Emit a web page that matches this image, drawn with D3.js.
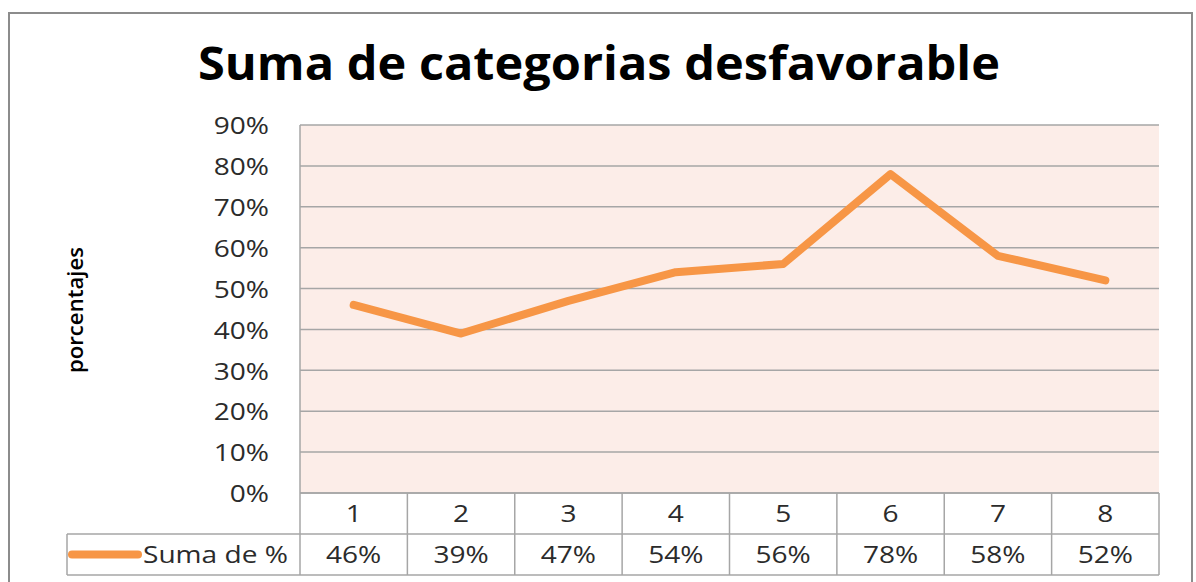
<!DOCTYPE html>
<html>
<head>
<meta charset="utf-8">
<script src="https://cdn.jsdelivr.net/npm/d3@7"></script>
<style>
  body { margin: 0; background: #fff; }
  svg { display: block; }
  text { font-family: "Open Sans", "DejaVu Sans", sans-serif; fill: #2b2b2b; }
</style>
</head>
<body>
<div id="chart"></div>
<script>
// Data
const categories = ['1', '2', '3', '4', '5', '6', '7', '8'];
const values = [0.46, 0.39, 0.47, 0.54, 0.56, 0.78, 0.58, 0.52];
const valueLabels = ['46%', '39%', '47%', '54%', '56%', '78%', '58%', '52%'];
const yTicks = [0, 0.1, 0.2, 0.3, 0.4, 0.5, 0.6, 0.7, 0.8, 0.9];
const seriesName = 'Suma de %';
const title = 'Suma de categorias desfavorable';
const yLabel = 'porcentajes';

const width = 1196, height = 582;
const plot = { left: 300, top: 125, right: 1159, bottom: 493 };
const rowH = 41;
const GRID = '#a6a6a6';
const LINE = '#f79646';
const FONT_SIZE = '23px';
const STRETCH = 1.22;  // the original text is wide, stretch it a bit

// widen text horizontally, keeps anchor
function stretch(sel, k) {
    sel.each(function() {
        const w = this.getComputedTextLength();
        d3.select(this)
            .attr('textLength', w * k)
            .attr('lengthAdjust', 'spacingAndGlyphs');
    });
}

const svg = d3.select('#chart').append('svg')
    .attr('width', width)
    .attr('height', height);

// Outer chart border
svg.append('rect')
    .attr('x', 9).attr('y', 13)
    .attr('width', 1183).attr('height', 600)
    .attr('fill', '#fff')
    .attr('stroke', '#8c8c8c')
    .attr('stroke-width', 2);

// Title
svg.append('text')
    .attr('x', 599).attr('y', 80)
    .attr('text-anchor', 'middle')
    .attr('textLength', 802)
    .attr('lengthAdjust', 'spacingAndGlyphs')
    .style('font-size', '46px')
    .style('font-weight', '700')
    .style('fill', '#000')
    .text(title);

// Scales
const x = d3.scaleBand()
    .domain(categories)
    .range([plot.left, plot.right]);

const y = d3.scaleLinear()
    .domain([0, 0.9])
    .range([plot.bottom, plot.top]);

// Plot area background
svg.append('rect')
    .attr('x', plot.left).attr('y', plot.top)
    .attr('width', plot.right - plot.left)
    .attr('height', plot.bottom - plot.top)
    .attr('fill', '#fcede8');

// Gridlines
svg.append('g')
    .selectAll('line')
    .data(yTicks)
    .join('line')
    .attr('x1', plot.left).attr('x2', plot.right)
    .attr('y1', d => y(d)).attr('y2', d => y(d))
    .attr('stroke', GRID)
    .attr('stroke-width', 1.5);

// Left plot edge
svg.append('line')
    .attr('x1', plot.left).attr('x2', plot.left)
    .attr('y1', plot.top).attr('y2', plot.bottom)
    .attr('stroke', GRID)
    .attr('stroke-width', 1.5);

// Y axis (labels only)
const yAxis = svg.append('g')
    .attr('transform', `translate(${plot.left},0)`)
    .call(d3.axisLeft(y)
        .tickValues(yTicks)
        .tickFormat(d3.format('.0%'))
        .tickSize(0)
        .tickPadding(31));
yAxis.select('.domain').remove();
yAxis.selectAll('text')
    .attr('dy', '0.38em')
    .style('font-size', FONT_SIZE)
    .style('font-family', '"Open Sans", sans-serif')
    .style('fill', '#2b2b2b')
    .call(stretch, STRETCH);

// Y label
svg.append('text')
    .attr('transform', 'translate(83,310) rotate(-90)')
    .attr('text-anchor', 'middle')
    .attr('textLength', 126)
    .attr('lengthAdjust', 'spacingAndGlyphs')
    .style('font-size', '22px')
    .style('font-weight', '600')
    .style('fill', '#000')
    .text(yLabel);

// Series line
const line = d3.line()
    .x((d, i) => x(categories[i]) + x.bandwidth() / 2)
    .y(d => y(d));

svg.append('path')
    .datum(values)
    .attr('fill', 'none')
    .attr('stroke', LINE)
    .attr('stroke-width', 8)
    .attr('stroke-linejoin', 'round')
    .attr('stroke-linecap', 'round')
    .attr('d', line);

// Data table below the plot
const table = svg.append('g');
const tableLeft = 67;
const row1 = plot.bottom, row2 = plot.bottom + rowH, row3 = plot.bottom + 2 * rowH;

// horizontal lines
table.append('line')
    .attr('x1', plot.left).attr('x2', plot.right)
    .attr('y1', row1).attr('y2', row1);
table.append('line')
    .attr('x1', tableLeft).attr('x2', plot.right)
    .attr('y1', row2).attr('y2', row2);
table.append('line')
    .attr('x1', tableLeft).attr('x2', plot.right)
    .attr('y1', row3).attr('y2', row3);
// vertical lines
table.append('line')
    .attr('x1', tableLeft).attr('x2', tableLeft)
    .attr('y1', row2).attr('y2', row3);
table.selectAll('line.col')
    .data(categories.concat(['end']))
    .join('line')
    .attr('class', 'col')
    .attr('x1', (d, i) => i < categories.length ? x(d) : plot.right)
    .attr('x2', (d, i) => i < categories.length ? x(d) : plot.right)
    .attr('y1', row1).attr('y2', row3);
table.selectAll('line')
    .attr('stroke', GRID)
    .attr('stroke-width', 1.5);

// category labels
table.selectAll('text.cat')
    .data(categories)
    .join('text')
    .attr('class', 'cat')
    .attr('x', d => x(d) + x.bandwidth() / 2)
    .attr('y', row1 + rowH / 2)
    .attr('dy', '0.38em')
    .attr('text-anchor', 'middle')
    .style('font-size', FONT_SIZE)
    .text(d => d)
    .call(stretch, STRETCH);

// value labels
table.selectAll('text.val')
    .data(valueLabels)
    .join('text')
    .attr('class', 'val')
    .attr('x', (d, i) => x(categories[i]) + x.bandwidth() / 2)
    .attr('y', row2 + rowH / 2)
    .attr('dy', '0.38em')
    .attr('text-anchor', 'middle')
    .style('font-size', FONT_SIZE)
    .text(d => d)
    .call(stretch, STRETCH);

// legend key in table
table.append('line')
    .attr('x1', 72).attr('x2', 138)
    .attr('y1', row2 + rowH / 2).attr('y2', row2 + rowH / 2)
    .attr('stroke', LINE)
    .attr('stroke-width', 8)
    .attr('stroke-linecap', 'round');
table.append('text')
    .attr('x', 143)
    .attr('y', row2 + rowH / 2)
    .attr('dy', '0.38em')
    .attr('textLength', 145)
    .attr('lengthAdjust', 'spacingAndGlyphs')
    .style('font-size', FONT_SIZE)
    .text(seriesName);
</script>
</body>
</html>
